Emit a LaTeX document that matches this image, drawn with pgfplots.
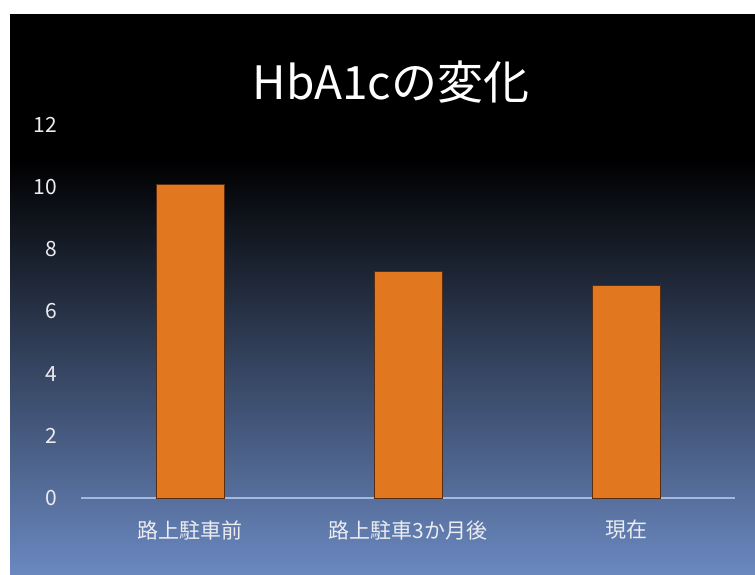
\documentclass[border=0pt]{standalone}
\usepackage{fontspec}
\setmainfont{Noto Sans CJK JP}
\usepackage{pgfplots}
\pgfplotsset{compat=1.18}
\definecolor{botblue}{RGB}{106,136,192}
\definecolor{barorange}{RGB}{225,120,32}
\definecolor{baredge}{RGB}{90,45,15}
\definecolor{axiscol}{RGB}{165,185,220}
\definecolor{labelcol}{RGB}{235,235,240}
\begin{document}
\begin{tikzpicture}
\useasboundingbox (0,0) rectangle (755pt,-574pt);
\fill[white] (0,0) rectangle (755pt,-574pt);
\fill[black] (10pt,-14pt) rectangle (755pt,-160pt);
\shade[top color=black, bottom color=botblue] (10pt,-160pt) rectangle (755pt,-574pt);
\node[text=white, font=\fontsize{46}{52}\selectfont, inner sep=0pt] at (391pt,-82pt) {HbA1cの変化};
\begin{axis}[
  at={(81pt,-498pt)}, anchor=south west,
  scale only axis, width=654pt, height=373pt,
  xmin=-0.5, xmax=2.5, ymin=0, ymax=12,
  xtick={0,1,2},
  xticklabels={路上駐車前, 路上駐車3か月後, 現在},
  ytick={0,2,4,6,8,10,12},
  major tick length=0pt,
  /pgf/number format/assume math mode=true,
  axis x line*=bottom, axis y line*=left,
  x axis line style={-, draw=axiscol, line width=1.3pt},
  y axis line style={draw=none},
  yticklabel style={text=labelcol, font=\fontsize{21}{24}\selectfont, anchor=east, inner sep=0pt, xshift=-24pt},
  xticklabel style={text=labelcol, font=\fontsize{21}{24}\selectfont, anchor=center, inner sep=0pt, yshift=-32pt},
  clip=false,
]
\addplot[ybar, bar width=68pt, fill=barorange, draw=baredge, line width=0.8pt] coordinates {(0,10.1) (1,7.3) (2,6.85)};
\end{axis}
\end{tikzpicture}
\end{document}
